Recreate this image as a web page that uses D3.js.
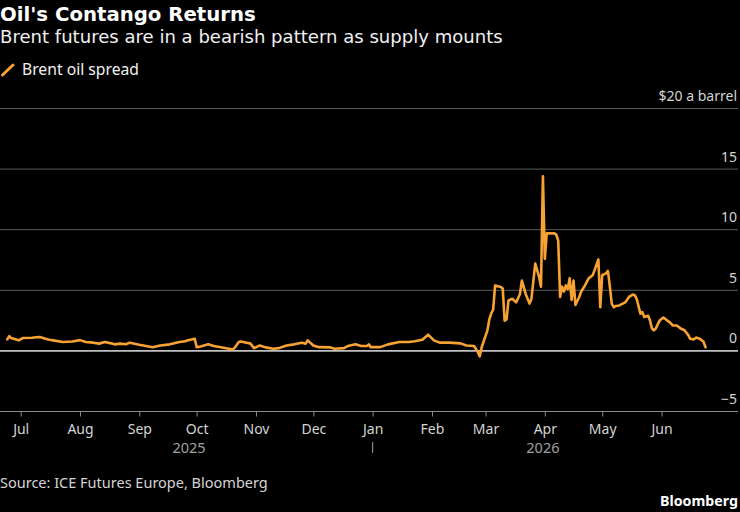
<!DOCTYPE html>
<html><head><meta charset="utf-8">
<script src="https://cdn.jsdelivr.net/npm/d3@7"></script>
<style>
html,body{margin:0;padding:0;background:#000;}
svg{display:block;font-family:"Noto Sans",sans-serif;}
</style></head><body>
<svg id="chart" width="740" height="512"></svg>
<script>
// ---------- data ----------
const titleText = "Oil's Contango Returns";
const subtitleText = "Brent futures are in a bearish pattern as supply mounts";
const seriesName = "Brent oil spread";
const sourceText = "Source: ICE Futures Europe, Bloomberg";
const brandText = "Bloomberg";
const yTicks = [-5, 0, 5, 10, 15, 20];
const yTopLabel = "$20 a barrel";
const years = ["2025", "2026"];

const dates = [
 "2025-06-24","2025-06-25","2025-06-26","2025-06-30","2025-07-02","2025-07-07","2025-07-09","2025-07-11",
 "2025-07-14","2025-07-16","2025-07-18","2025-07-23","2025-07-28","2025-08-01","2025-08-04","2025-08-08",
 "2025-08-11","2025-08-14","2025-08-18","2025-08-19","2025-08-22","2025-08-25","2025-08-27","2025-09-01",
 "2025-09-08","2025-09-12","2025-09-17","2025-09-22","2025-09-25","2025-09-26","2025-09-30","2025-10-01",
 "2025-10-03","2025-10-07","2025-10-10","2025-10-15","2025-10-20","2025-10-21","2025-10-23","2025-10-24",
 "2025-10-27","2025-10-29","2025-10-31","2025-11-03","2025-11-06","2025-11-10","2025-11-13","2025-11-17",
 "2025-11-21","2025-11-25","2025-11-27","2025-11-28","2025-12-01","2025-12-04","2025-12-10","2025-12-12",
 "2025-12-17","2025-12-19","2025-12-23","2025-12-26","2025-12-29","2025-12-30","2025-12-31","2026-01-05",
 "2026-01-09","2026-01-15","2026-01-20","2026-01-23","2026-01-27","2026-01-30","2026-02-02","2026-02-05",
 "2026-02-10","2026-02-16","2026-02-19","2026-02-23","2026-02-25","2026-02-26","2026-02-27","2026-03-02",
 "2026-03-03","2026-03-04","2026-03-05","2026-03-06","2026-03-09","2026-03-10","2026-03-11","2026-03-12",
 "2026-03-13","2026-03-15","2026-03-17","2026-03-19","2026-03-20","2026-03-22","2026-03-24","2026-03-25",
 "2026-03-27","2026-03-29","2026-03-30","2026-03-31","2026-04-01","2026-04-02","2026-04-06","2026-04-07",
 "2026-04-08","2026-04-09","2026-04-10","2026-04-11","2026-04-12","2026-04-13","2026-04-14","2026-04-15",
 "2026-04-16","2026-04-17","2026-04-19","2026-04-20","2026-04-22","2026-04-24","2026-04-26","2026-04-27",
 "2026-04-29","2026-04-30","2026-05-01","2026-05-03","2026-05-04","2026-05-05","2026-05-06","2026-05-07",
 "2026-05-08","2026-05-10","2026-05-13","2026-05-15","2026-05-17","2026-05-18","2026-05-19","2026-05-21",
 "2026-05-22","2026-05-23","2026-05-25","2026-05-26","2026-05-27","2026-05-28","2026-05-29","2026-05-31",
 "2026-06-02","2026-06-04","2026-06-05","2026-06-07","2026-06-09","2026-06-11","2026-06-13","2026-06-15",
 "2026-06-16","2026-06-18","2026-06-19","2026-06-21","2026-06-23","2026-06-24"
];
const values = [
 0.95,1.22,1.06,0.87,1.06,1.09,1.12,1.14,
 1.0,0.92,0.87,0.73,0.78,0.89,0.73,0.68,
 0.6,0.73,0.6,0.54,0.6,0.55,0.68,0.5,
 0.3,0.45,0.54,0.73,0.8,0.85,1.0,0.3,
 0.37,0.54,0.4,0.26,0.12,0.29,0.73,0.78,
 0.68,0.62,0.23,0.45,0.29,0.18,0.23,0.45,
 0.54,0.68,0.6,0.87,0.45,0.31,0.29,0.18,
 0.23,0.4,0.54,0.4,0.4,0.54,0.31,0.31,
 0.54,0.73,0.73,0.8,0.92,1.34,0.87,0.68,
 0.68,0.62,0.45,0.4,-0.1,-0.45,0.3,1.7,
 2.6,3.1,3.4,5.4,5.27,5.14,2.5,2.6,
 4.17,4.3,4.0,4.7,5.8,4.7,3.9,4.3,
 7.2,6.1,5.3,14.4,7.6,9.7,9.7,9.6,
 9.1,4.45,5.3,4.9,5.4,5.1,6.0,4.2,
 5.8,3.8,4.45,4.9,5.4,6.0,6.25,6.65,
 7.55,3.6,6.25,6.4,6.6,5.3,3.9,3.6,
 3.7,3.75,4.0,4.45,4.65,4.6,4.3,3.07,
 3.2,2.8,2.9,2.5,1.85,1.7,1.85,2.5,
 2.75,2.5,2.4,2.1,2.1,1.85,1.7,1.3,
 1.0,0.95,1.1,1.0,0.75,0.3
];

// ---------- layout ----------
const W = 740, H = 512;
const C = {bg:"#000", line:"#f7a232", grid:"#5a5a5a", zero:"#c0c0c0", axis:"#8a8a8a",
           text:"#ffffff", sub:"#f0f0f0", tick:"#d4d4d4", year:"#a0a0a0"};
const parse = d3.utcParse("%Y-%m-%d");
const data = dates.map((d,i)=>({date:parse(d), value:values[i]}));

const svg = d3.select("#chart");
svg.append("rect").attr("width",W).attr("height",H).attr("fill",C.bg);

const x = d3.scaleUtc().domain(d3.extent(data, d=>d.date)).range([7.3, 705.5]);
const y = d3.scaleLinear().domain([-5, 20]).range([411.5, 108.5]);

function fit(sel, w){
  const fs = parseFloat(sel.attr("font-size"));
  const cur = sel.node().getComputedTextLength();
  sel.attr("font-size", (fs*w/cur).toFixed(2));
}

// titles
fit(svg.append("text").attr("x",0).attr("y",21).attr("font-size",20).attr("font-weight","bold")
  .attr("font-family","DejaVu Sans, sans-serif")
  .attr("fill",C.text).text(titleText), 256);
fit(svg.append("text").attr("x",0).attr("y",43).attr("font-size",18)
  .attr("font-family","DejaVu Sans, sans-serif")
  .attr("fill",C.sub).text(subtitleText), 503);

// legend
svg.append("line").attr("x1",2.5).attr("y1",75).attr("x2",13).attr("y2",65)
  .attr("stroke",C.line).attr("stroke-width",3).attr("stroke-linecap","round");
fit(svg.append("text").attr("x",22).attr("y",75).attr("font-size",14)
  .attr("fill",C.sub).text(seriesName), 117);

// gridlines
svg.append("g").selectAll("line").data(yTicks).join("line")
  .attr("x1",0).attr("x2",738)
  .attr("y1",d=>y(d)).attr("y2",d=>y(d))
  .attr("stroke",d=> d===0 ? C.zero : d===-5 ? C.axis : C.grid)
  .attr("stroke-width",d=> d===0 ? 1.6 : 1);

// y axis labels
const yAxis = svg.append("g").attr("transform","translate(737,0)")
  .call(d3.axisLeft(y).tickValues(yTicks).tickSize(0).tickPadding(0)
    .tickFormat(d=> d===20 ? yTopLabel : d3.format("d")(d)));
yAxis.select(".domain").remove();
yAxis.selectAll("text").attr("dy",-8).attr("fill",C.tick)
  .attr("font-size",14).attr("font-family","Noto Sans, sans-serif");

// x axis
const xAxis = svg.append("g").attr("transform",`translate(0,${y(-5)})`)
  .call(d3.axisBottom(x).ticks(d3.utcMonth.every(1)).tickFormat(d3.utcFormat("%b")).tickSize(5));
xAxis.select(".domain").remove();
xAxis.selectAll(".tick line").attr("stroke",C.axis);
xAxis.selectAll("text").attr("y",0).attr("dy",22.5).attr("fill",C.tick)
  .attr("font-size",14).attr("font-family","Noto Sans, sans-serif");

// year labels
const yearG = svg.append("g");
years.forEach(yr=>{
  const ext = d3.extent(data.filter(d=>d.date.getUTCFullYear()===+yr), d=>d.date);
  yearG.append("text").attr("x",(x(ext[0])+x(ext[1]))/2).attr("y",453)
    .attr("text-anchor","middle").attr("fill",C.year).attr("font-size",14.5).text(yr);
});
const jan = parse(years[1]+"-01-01");
yearG.append("line").attr("x1",x(jan)).attr("x2",x(jan)).attr("y1",442).attr("y2",453)
  .attr("stroke",C.year).attr("stroke-width",1);

// series line
svg.append("path").datum(data)
  .attr("fill","none").attr("stroke",C.line).attr("stroke-width",2.6)
  .attr("stroke-linejoin","round").attr("stroke-linecap","round")
  .attr("d", d3.line().x(d=>x(d.date)).y(d=>y(d.value)));

// footer
fit(svg.append("text").attr("x",0).attr("y",488).attr("font-size",14)
  .attr("fill",C.tick).text(sourceText), 268);
fit(svg.append("text").attr("x",738).attr("y",506).attr("text-anchor","end").attr("font-size",15)
  .attr("font-weight","bold").attr("fill",C.text).text(brandText), 78);
</script>
</body></html>
